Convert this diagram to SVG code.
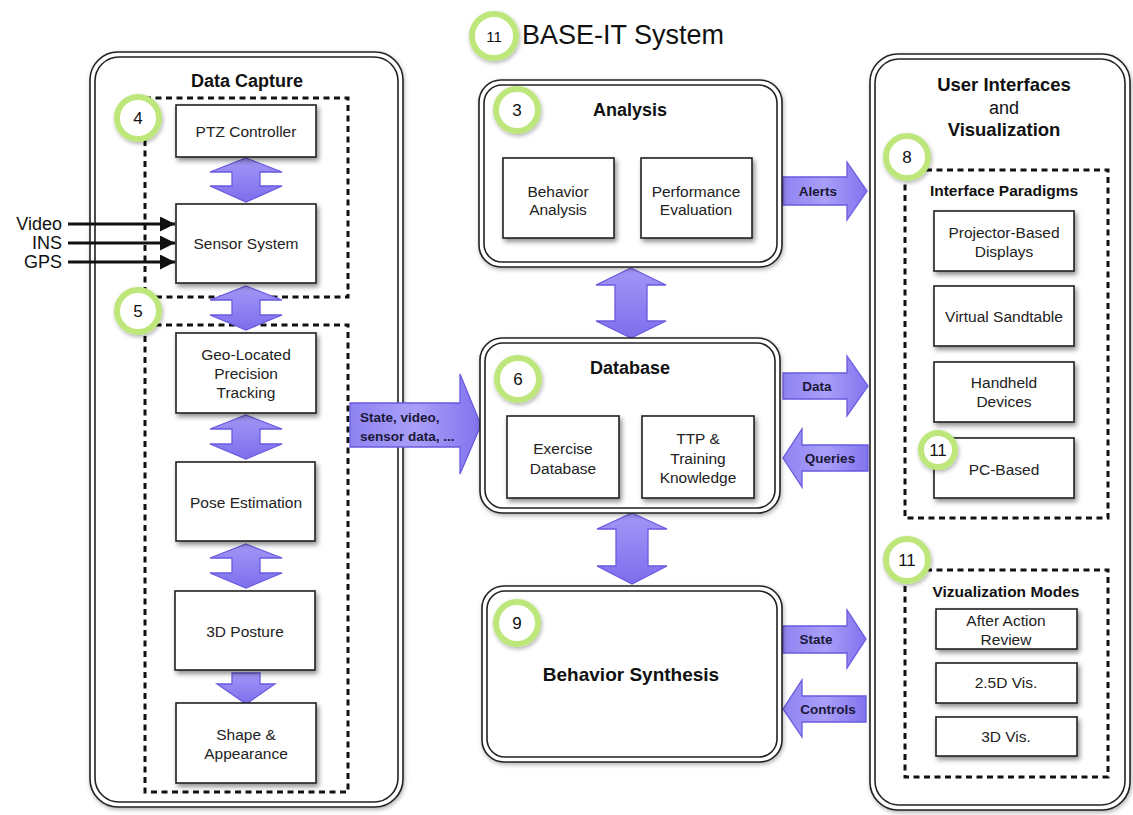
<svg xmlns="http://www.w3.org/2000/svg" width="1133" height="815" viewBox="0 0 1133 815">
<defs>
<filter id="sh" x="-20%" y="-20%" width="150%" height="150%">
<feDropShadow dx="2" dy="3" stdDeviation="2.5" flood-color="#000" flood-opacity="0.45"/>
</filter>
<filter id="sh2" x="-20%" y="-20%" width="150%" height="150%">
<feDropShadow dx="1" dy="2" stdDeviation="2" flood-color="#000" flood-opacity="0.3"/>
</filter>
<linearGradient id="pg" x1="0" y1="0" x2="0" y2="1">
<stop offset="0" stop-color="#a297f7"/>
<stop offset="1" stop-color="#7d6eec"/>
</linearGradient>
<linearGradient id="pgh" x1="0" y1="0" x2="1" y2="0">
<stop offset="0" stop-color="#8f83f2"/>
<stop offset="0.5" stop-color="#a99ff8"/>
<stop offset="1" stop-color="#8173ee"/>
</linearGradient>
<marker id="ah" viewBox="0 0 10 10" refX="10" refY="5" markerWidth="7" markerHeight="5" orient="auto" markerUnits="strokeWidth">
<path d="M0,0 L10,5 L0,10 Z" fill="#111"/>
</marker>
</defs>
<style>
.panel{fill:#fff;stroke:#222;stroke-width:1.6}
.pin{fill:none;stroke:#222;stroke-width:1.6}
.box{fill:#fff;stroke:#222;stroke-width:1.6;filter:url(#sh)}
.dash{fill:none;stroke:#111;stroke-width:3;stroke-dasharray:6 4.5}
.t{font-family:"Liberation Sans",Arial,sans-serif;font-size:15.5px;fill:#222;text-anchor:middle}
.tb{font-family:"Liberation Sans",Arial,sans-serif;font-weight:bold;fill:#111;text-anchor:middle}
.lab{font-family:"Liberation Sans",Arial,sans-serif;font-weight:bold;font-size:13.5px;fill:#1b1838;text-anchor:middle}
.arr{fill:url(#pgh);stroke:#6a5ae0;stroke-width:1.3}
.arrh{fill:url(#pg);stroke:#6a5ae0;stroke-width:1.3}
.ring{fill:#fff;stroke:#bde77a;stroke-width:6;filter:url(#sh2)}
.num{font-family:"Liberation Sans",Arial,sans-serif;font-size:17px;fill:#111;text-anchor:middle}
.in{stroke:#111;stroke-width:3;fill:none;marker-end:url(#ah)}
.inl{font-family:"Liberation Sans",Arial,sans-serif;font-size:18px;fill:#111;text-anchor:end}
</style>

<g id="title">
<circle class="ring" cx="494" cy="36" r="22"/>
<text class="num" x="494" y="42" style="font-size:15px">11</text>
<text x="522" y="44" style="font-family:'Liberation Sans',Arial,sans-serif;font-size:27px;fill:#111">BASE-IT System</text>
</g>

<g id="data-capture">
<rect class="panel" x="90" y="52" width="313" height="755" rx="28" filter="url(#sh2)"/>
<rect class="pin" x="95" y="57" width="303" height="745" rx="24"/>
<text class="tb" x="247" y="87" style="font-size:18px">Data Capture</text>
<rect class="dash" x="145" y="98" width="203" height="199"/>
<rect class="dash" x="145" y="325" width="203" height="467"/>
</g>

<g id="ui-panel">
<rect class="panel" x="870" y="54" width="260" height="756" rx="28" filter="url(#sh2)"/>
<rect class="pin" x="875" y="59" width="250" height="746" rx="24"/>
<text class="tb" x="1004" y="91" style="font-size:18.5px">User Interfaces</text>
<text class="t" x="1004" y="114" style="font-size:18px;fill:#111">and</text>
<text class="tb" x="1004" y="136" style="font-size:18.5px">Visualization</text>
<rect class="dash" x="905" y="170" width="203" height="348"/>
<text class="tb" x="1004" y="196" style="font-size:15.5px">Interface Paradigms</text>
<rect class="dash" x="905" y="570" width="203" height="207"/>
<text class="tb" x="1006" y="597" style="font-size:15.5px">Vizualization Modes</text>
</g>

<g id="connectors">
<!-- inputs -->
<line class="in" x1="68" y1="224" x2="175" y2="224"/>
<line class="in" x1="68" y1="243" x2="175" y2="243"/>
<line class="in" x1="68" y1="262" x2="175" y2="262"/>
<text class="inl" x="62" y="230">Video</text>
<text class="inl" x="62" y="249">INS</text>
<text class="inl" x="62" y="268">GPS</text>
<!-- left column double arrows -->
<path class="arrh" d="M246,158 L282,172 L260,172 L260,186 L282,186 L246,202 L210,186 L232,186 L232,172 L210,172 Z"/>
<path class="arrh" d="M246,286 L282,300 L260,300 L260,315 L282,315 L246,330 L210,315 L232,315 L232,300 L210,300 Z"/>
<path class="arrh" d="M246,415 L282,429 L260,429 L260,444 L282,444 L246,459 L210,444 L232,444 L232,429 L210,429 Z"/>
<path class="arrh" d="M246,544 L282,558 L260,558 L260,573 L282,573 L246,588 L210,573 L232,573 L232,558 L210,558 Z"/>
<path class="arrh" d="M232,673 L260,673 L260,684 L275,684 L246,704 L217,684 L232,684 Z"/>
<!-- central vertical double arrows -->
<path class="arrh" d="M631,268 L666,285 L647,285 L647,321 L666,321 L631,338 L596,321 L615,321 L615,285 L596,285 Z"/>
<path class="arrh" d="M632,513 L667,529 L648,529 L648,566 L667,566 L632,584 L597,566 L616,566 L616,529 L597,529 Z"/>
<!-- horizontal arrows -->
<path class="arr" d="M350,403 L460,403 L460,374 L481,425 L460,474 L460,447 L350,447 Z"/>
<text class="lab" x="360" y="422" style="text-anchor:start">State, video,</text>
<text class="lab" x="360" y="441" style="text-anchor:start">sensor data, ...</text>
<path class="arr" d="M783,177 L847,177 L847,162 L867,191 L847,220 L847,205 L783,205 Z"/>
<text class="lab" x="818" y="196">Alerts</text>
<path class="arr" d="M783,373 L847,373 L847,356 L868,386 L847,416 L847,399 L783,399 Z"/>
<text class="lab" x="817" y="391">Data</text>
<path class="arr" d="M868,445 L802,445 L802,429 L783,458 L802,487 L802,471 L868,471 Z"/>
<text class="lab" x="830" y="463">Queries</text>
<path class="arr" d="M783,626 L847,626 L847,610 L866,639 L847,668 L847,653 L783,653 Z"/>
<text class="lab" x="816" y="644">State</text>
<path class="arr" d="M866,696 L802,696 L802,680 L783,709 L802,737 L802,722 L866,722 Z"/>
<text class="lab" x="828" y="714">Controls</text>
</g>

<g id="n-ptz"><rect class="box" x="176" y="105" width="140" height="52"/><text class="t" x="246" y="137">PTZ Controller</text></g>
<g id="n-sensor"><rect class="box" x="176" y="204" width="140" height="79"/><text class="t" x="246" y="249">Sensor System</text></g>
<g id="n-geo"><rect class="box" x="176" y="333" width="140" height="80"/><text class="t" x="246" y="360">Geo-Located</text><text class="t" x="246" y="379">Precision</text><text class="t" x="246" y="398">Tracking</text></g>
<g id="n-pose"><rect class="box" x="176" y="462" width="139" height="79"/><text class="t" x="246" y="508">Pose Estimation</text></g>
<g id="n-posture"><rect class="box" x="175" y="591" width="140" height="79"/><text class="t" x="245" y="637">3D Posture</text></g>
<g id="n-shape"><rect class="box" x="176" y="703" width="140" height="80"/><text class="t" x="246" y="740">Shape &amp;</text><text class="t" x="246" y="759">Appearance</text></g>
<g id="c4"><circle class="ring" cx="138" cy="118" r="21"/><text class="num" x="138" y="124">4</text></g>
<g id="c5"><circle class="ring" cx="138" cy="311" r="21"/><text class="num" x="138" y="317">5</text></g>

<g id="analysis">
<rect class="panel" x="479" y="80" width="303" height="187" rx="22" filter="url(#sh2)"/>
<rect class="pin" x="484" y="85" width="293" height="177" rx="18"/>
<text class="tb" x="630" y="116" style="font-size:18px">Analysis</text>
<circle class="ring" cx="517" cy="110" r="21"/><text class="num" x="517" y="116">3</text>
<rect class="box" x="503" y="158" width="111" height="80"/>
<text class="t" x="558" y="197">Behavior</text><text class="t" x="558" y="215">Analysis</text>
<rect class="box" x="641" y="158" width="111" height="80"/>
<text class="t" x="696" y="197">Performance</text><text class="t" x="696" y="215">Evaluation</text>
</g>

<g id="database">
<rect class="panel" x="480" y="338" width="300" height="175" rx="22" filter="url(#sh2)"/>
<rect class="pin" x="485" y="343" width="290" height="165" rx="18"/>
<text class="tb" x="630" y="374" style="font-size:18px">Database</text>
<circle class="ring" cx="518" cy="379" r="21"/><text class="num" x="518" y="385">6</text>
<rect class="box" x="507" y="416" width="112" height="82"/>
<text class="t" x="563" y="454">Exercise</text><text class="t" x="563" y="474">Database</text>
<rect class="box" x="642" y="416" width="112" height="82"/>
<text class="t" x="698" y="444">TTP &amp;</text><text class="t" x="698" y="464">Training</text><text class="t" x="698" y="483">Knowledge</text>
</g>

<g id="behavior-synthesis">
<rect class="panel" x="482" y="586" width="300" height="176" rx="22" filter="url(#sh2)"/>
<rect class="pin" x="487" y="591" width="290" height="166" rx="18"/>
<circle class="ring" cx="517" cy="623" r="21"/><text class="num" x="517" y="629">9</text>
<text class="tb" x="631" y="681" style="font-size:19px">Behavior Synthesis</text>
</g>

<g id="n-projector"><rect class="box" x="934" y="211" width="140" height="60"/><text class="t" x="1004" y="238">Projector-Based</text><text class="t" x="1004" y="257">Displays</text></g>
<g id="n-sandtable"><rect class="box" x="934" y="286" width="140" height="60"/><text class="t" x="1004" y="322">Virtual Sandtable</text></g>
<g id="n-handheld"><rect class="box" x="934" y="362" width="140" height="60"/><text class="t" x="1004" y="388">Handheld</text><text class="t" x="1004" y="407">Devices</text></g>
<g id="n-pc"><rect class="box" x="934" y="438" width="140" height="60"/><text class="t" x="1004" y="475">PC-Based</text>
<circle class="ring" cx="938" cy="450" r="17"/><text class="num" x="938" y="456">11</text></g>
<g id="c8"><circle class="ring" cx="907" cy="157" r="21"/><text class="num" x="907" y="163">8</text></g>
<g id="c11"><circle class="ring" cx="907" cy="560" r="21"/><text class="num" x="907" y="566">11</text></g>
<g id="n-aar"><rect class="box" x="936" y="609" width="141" height="40"/><text class="t" x="1006" y="626">After Action</text><text class="t" x="1006" y="645">Review</text></g>
<g id="n-25d"><rect class="box" x="936" y="663" width="141" height="40"/><text class="t" x="1006" y="688">2.5D Vis.</text></g>
<g id="n-3d"><rect class="box" x="936" y="717" width="141" height="39"/><text class="t" x="1006" y="742">3D Vis.</text></g>
</svg>
